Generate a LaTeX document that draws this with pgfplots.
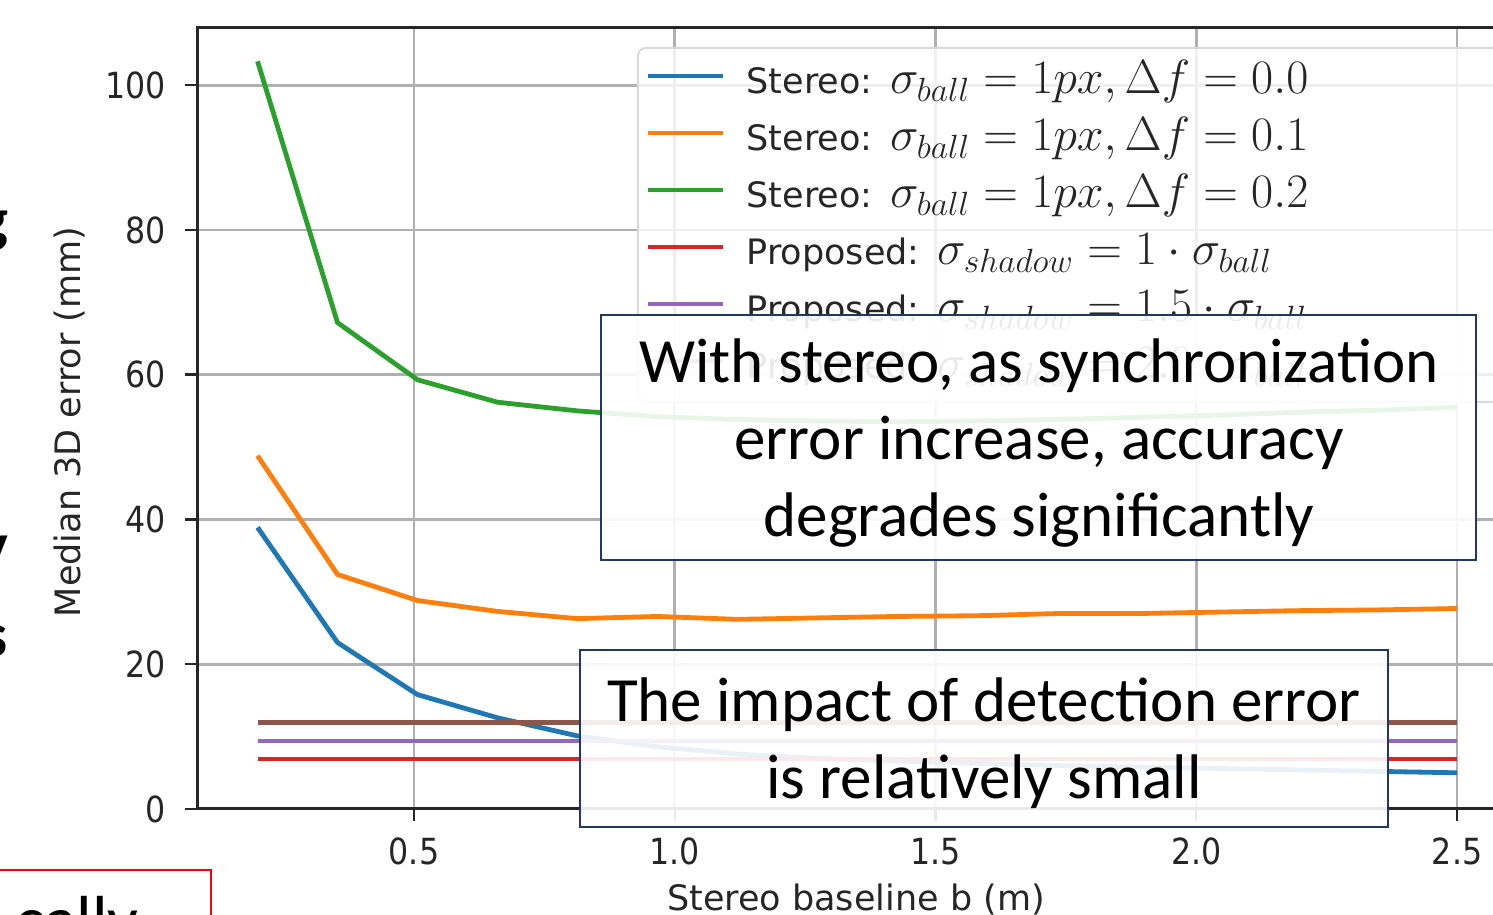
\RequirePackage{fix-cm}
\documentclass[border=0pt]{standalone}
\usepackage{fontspec}
\usepackage{pgfplots}
\pgfplotsset{compat=1.18}
\newfontfamily\dvs{DejaVu Sans}
\newfontfamily\dvsn[FakeStretch=0.88]{DejaVu Sans}
\newfontfamily\carl{Carlito}
\definecolor{mblue}{HTML}{1F77B4}
\definecolor{morange}{HTML}{FF7F0E}
\definecolor{mgreen}{HTML}{2CA02C}
\definecolor{mred}{HTML}{D62728}
\definecolor{mpurple}{HTML}{9467BD}
\definecolor{mbrown}{HTML}{8C564B}
\definecolor{mgrid}{HTML}{B0B0B0}
\definecolor{navy}{HTML}{203864}
\definecolor{slidered}{HTML}{FF0000}
\begin{document}
\begin{tikzpicture}
\path[use as bounding box] (0,0) rectangle (746.5pt,457.5pt);
\clip (0,0) rectangle (746.5pt,457.5pt);
\begin{axis}[
  at={(98.5pt,53pt)}, anchor=south west,
  scale only axis, width=660pt, height=390.5pt,
  xmin=0.0839, xmax=2.615, ymin=0, ymax=107.9,
  xtick={0.5,1.0,1.5,2.0,2.5}, xticklabels={0.5,1.0,1.5,2.0,2.5},
  ytick={0,20,40,60,80,100}, yticklabels={0,20,40,60,80,100},
  tick label style={font=\dvsn\fontsize{18}{18}\selectfont, text=black!85},
  xticklabel style={yshift=-5pt},
  yticklabel style={xshift=-6pt},
  tick align=outside, tick pos=left, major tick length=6pt,
  tick style={black!85, line width=1.2pt},
  axis line style={black!85, line width=1.5pt},
  grid=major, major grid style={mgrid, line width=1.4pt},
  xlabel={Stereo baseline b (m)},
  xlabel style={font=\dvs\fontsize{17.5}{17.5}\selectfont, text=black!85, at={(rel axis cs:0.4992,0)}, anchor=base, yshift=-50.75pt},
  ylabel={Median 3D error (mm)},
  ylabel style={font=\dvs\fontsize{17.5}{17.5}\selectfont, text=black!85, at={(rel axis cs:0,0.4955)}, anchor=center, yshift=63.5pt},
  legend image code/.code={\draw[#1, line width=2.4pt] (0pt,9pt) -- (37.5pt,9pt);},
  legend style={at={(rel axis cs:0.3333,0.9757)}, anchor=north west,
    draw=gray!30, line width=1pt, rounded corners=4pt,
    fill=white, fill opacity=0.8, text opacity=1,
    inner xsep=4pt, inner ysep=3pt, row sep=0pt, column sep=10.5pt,
    font=\dvs\fontsize{17.5}{20}\selectfont, text=black!85,
    nodes={inner sep=0pt, anchor=base west, text width=380pt, align=left, text height=20pt, text depth=8.5pt}},
]
\addplot[mblue, line width=2.4pt, mark=none] coordinates {
(0.2,38.9) (0.3533,23.0) (0.5067,15.8) (0.66,12.6) (0.8133,10.1) (0.9667,8.6) (1.12,7.6) (1.2733,7.0)
(1.4267,6.6) (1.58,6.3) (1.7333,6.0) (1.8867,5.8) (2.04,5.6) (2.1933,5.4) (2.3467,5.2) (2.5,5.0)};
\addlegendentry{Stereo: {\fontsize{24}{24}\selectfont$\sigma_{ball} = 1px, \Delta f = 0.0$}}
\addplot[morange, line width=2.4pt, mark=none] coordinates {
(0.2,48.8) (0.3533,32.4) (0.5067,28.8) (0.66,27.3) (0.8133,26.3) (0.9667,26.6) (1.12,26.2) (1.2733,26.4)
(1.4267,26.6) (1.58,26.7) (1.7333,27.0) (1.8867,27.0) (2.04,27.2) (2.1933,27.4) (2.3467,27.5) (2.5,27.7)};
\addlegendentry{Stereo: {\fontsize{24}{24}\selectfont$\sigma_{ball} = 1px, \Delta f = 0.1$}}
\addplot[mgreen, line width=2.4pt, mark=none] coordinates {
(0.2,103.3) (0.3533,67.2) (0.5067,59.3) (0.66,56.2) (0.8133,55.0) (0.9667,54.2) (1.12,53.8) (1.2733,53.6)
(1.4267,53.5) (1.58,53.6) (1.7333,53.8) (1.8867,54.1) (2.04,54.4) (2.1933,54.8) (2.3467,55.1) (2.5,55.5)};
\addlegendentry{Stereo: {\fontsize{24}{24}\selectfont$\sigma_{ball} = 1px, \Delta f = 0.2$}}
\addplot[mred, line width=2.4pt, mark=none] coordinates {(0.2,6.9) (2.5,6.9)};
\addlegendentry{Proposed: {\fontsize{24}{24}\selectfont$\sigma_{shadow} = 1 \cdot \sigma_{ball}$}}
\addplot[mpurple, line width=2.4pt, mark=none] coordinates {(0.2,9.4) (2.5,9.4)};
\addlegendentry{Proposed: {\fontsize{24}{24}\selectfont$\sigma_{shadow} = 1.5 \cdot \sigma_{ball}$}}
\addplot[mbrown, line width=2.4pt, mark=none] coordinates {(0.2,11.9) (2.5,11.9)};
\addlegendentry{Proposed: {\fontsize{24}{24}\selectfont$\sigma_{shadow} = 2.0 \cdot \sigma_{ball}$}}
\end{axis}
% annotation boxes
\draw[navy, line width=1.3pt, fill=white, fill opacity=0.9] (300.5pt,300pt) rectangle (738pt,177.5pt);
\draw[navy, line width=1.3pt, fill=white, fill opacity=0.9] (290pt,132.5pt) rectangle (694pt,44pt);
\begin{scope}[every node/.style={inner sep=0pt, anchor=base, font=\carl\fontsize{31.5}{38.5}\selectfont, text=black}]
\node at (519.5pt,266pt) {With stereo, as synchronization};
\node at (519.5pt,227.5pt) {error increase, accuracy};
\node at (519.5pt,189pt) {degrades significantly};
\node at (492pt,96.5pt) {The impact of detection error};
\node at (492pt,58pt) {is relatively small};
\end{scope}
% slide fragments
\begin{scope}[every node/.style={inner sep=0pt, anchor=base east, font=\carl\bfseries\fontsize{31.5}{38.5}\selectfont, text=black}]
\node at (4.5pt,337pt) {g};
\node at (4.5pt,174pt) {y};
\node at (4pt,129pt) {s};
\end{scope}
\draw[slidered, line width=1.2pt] (-5pt,22.5pt) -- (105.5pt,22.5pt) -- (105.5pt,-5pt);
\node[inner sep=0pt, anchor=base east, font=\carl\fontsize{34}{40}\selectfont] at (69.5pt,-14pt) {cally};
\end{tikzpicture}
\end{document}
